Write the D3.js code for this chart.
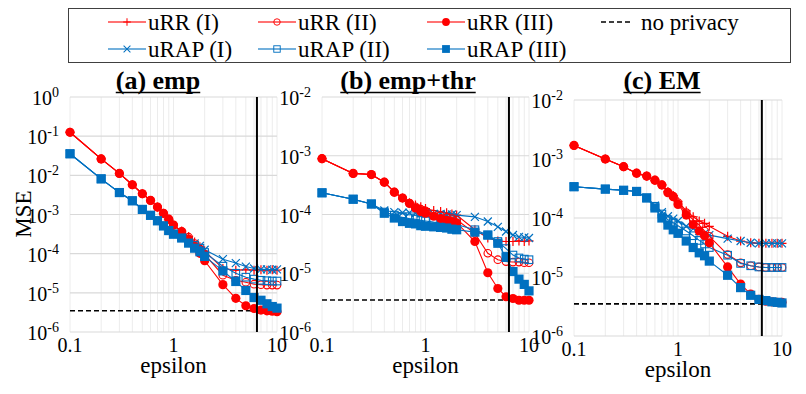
<!DOCTYPE html>
<html>
<head>
<meta charset="utf-8">
<script src="https://cdn.jsdelivr.net/npm/d3@7"></script>
<style>
  body { margin: 0; background: #fff; }
</style>
</head>
<body>
<div id="chart"></div>
<script>
// epsilon values on the x axis
var eps = [0.1, 0.2, 0.3, 0.4, 0.5, 0.6, 0.7, 0.8, 0.9, 1.0,
  1.2, 1.4, 1.6, 1.8, 2.0, 3, 4, 5, 6, 7, 8, 9, 10];

var seriesNames = ['uRR (I)', 'uRR (II)', 'uRR (III)', 'uRAP (I)', 'uRAP (II)', 'uRAP (III)'];
var noPrivacy = 3.5e-6;
var epsLine = 6.4;

// (a) emp
var empRR1 = [1.26e-1, 2.63e-2, 1.12e-2, 5.75e-3, 3.39e-3, 2.29e-3, 1.55e-3, 1.07e-3, 7.59e-4, 5.37e-4,
  3.80e-4, 2.75e-4, 2.00e-4, 1.51e-4, 1.17e-4, 4.17e-5, 3.80e-5, 3.89e-5, 3.80e-5, 3.89e-5, 3.80e-5, 3.89e-5, 3.80e-5];
var empRR2 = [1.26e-1, 2.63e-2, 1.12e-2, 5.75e-3, 3.39e-3, 2.29e-3, 1.55e-3, 1.07e-3, 7.59e-4, 5.37e-4,
  3.72e-4, 2.63e-4, 1.82e-4, 1.32e-4, 9.55e-5, 2.82e-5, 2.09e-5, 1.86e-5, 1.66e-5, 1.62e-5, 1.58e-5, 1.58e-5, 1.58e-5];
var empRR3 = [1.26e-1, 2.63e-2, 1.12e-2, 5.75e-3, 3.39e-3, 2.29e-3, 1.55e-3, 1.07e-3, 7.59e-4, 5.37e-4,
  3.63e-4, 2.34e-4, 1.51e-4, 1.02e-4, 6.61e-5, 1.62e-5, 7.24e-6, 4.68e-6, 3.98e-6, 3.63e-6, 3.47e-6, 3.39e-6, 3.31e-6];
var empRAP1 = [3.55e-2, 8.13e-3, 3.63e-3, 2.24e-3, 1.35e-3, 9.55e-4, 6.92e-4, 5.13e-4, 3.89e-4, 3.16e-4,
  2.69e-4, 2.19e-4, 1.82e-4, 1.58e-4, 1.26e-4, 7.24e-5, 5.75e-5, 4.68e-5, 4.17e-5, 3.98e-5, 3.98e-5, 3.89e-5, 3.98e-5];
var empRAP2 = [3.55e-2, 8.13e-3, 3.63e-3, 2.24e-3, 1.35e-3, 9.55e-4, 6.92e-4, 5.13e-4, 3.89e-4, 3.16e-4,
  2.63e-4, 2.04e-4, 1.62e-4, 1.38e-4, 1.07e-4, 4.79e-5, 3.16e-5, 2.51e-5, 2.24e-5, 2.09e-5, 2.04e-5, 2.00e-5, 2.00e-5];
var empRAP3 = [3.55e-2, 8.13e-3, 3.63e-3, 2.24e-3, 1.35e-3, 9.55e-4, 6.92e-4, 5.13e-4, 3.89e-4, 3.16e-4,
  2.51e-4, 1.86e-4, 1.38e-4, 1.12e-4, 8.51e-5, 3.63e-5, 1.95e-5, 1.15e-5, 7.59e-6, 6.46e-6, 5.25e-6, 4.47e-6, 4.07e-6];

// (b) emp+thr
var thrRR1 = [8.91e-4, 5.01e-4, 4.79e-4, 3.55e-4, 2.40e-4, 1.91e-4, 1.58e-4, 1.45e-4, 1.35e-4, 1.26e-4,
  1.17e-4, 1.12e-4, 1.07e-4, 1.02e-4, 9.77e-5, 5.50e-5, 3.98e-5, 3.55e-5, 3.47e-5, 3.47e-5, 3.55e-5, 3.47e-5, 3.55e-5];
var thrRR2 = [8.91e-4, 5.01e-4, 4.79e-4, 3.55e-4, 2.40e-4, 1.91e-4, 1.55e-4, 1.35e-4, 1.23e-4, 1.15e-4,
  1.02e-4, 9.55e-5, 8.91e-5, 8.51e-5, 8.13e-5, 4.79e-5, 2.19e-5, 1.70e-5, 1.58e-5, 1.55e-5, 1.55e-5, 1.51e-5, 1.51e-5];
var thrRR3 = [8.91e-4, 5.01e-4, 4.79e-4, 3.55e-4, 2.40e-4, 1.91e-4, 1.55e-4, 1.29e-4, 1.12e-4, 1.05e-4,
  9.33e-5, 8.51e-5, 7.94e-5, 7.59e-5, 7.24e-5, 3.47e-5, 1.02e-5, 5.50e-6, 3.98e-6, 3.72e-6, 3.47e-6, 3.47e-6, 3.47e-6];
var thrRAP1 = [2.34e-4, 1.82e-4, 1.51e-4, 1.17e-4, 1.10e-4, 1.07e-4, 1.07e-4, 1.05e-4, 1.05e-4, 1.05e-4,
  1.02e-4, 1.02e-4, 1.00e-4, 1.00e-4, 9.77e-5, 9.12e-5, 7.59e-5, 6.17e-5, 5.13e-5, 4.47e-5, 4.17e-5, 4.07e-5, 3.98e-5];
var thrRAP2 = [2.34e-4, 1.82e-4, 1.51e-4, 1.10e-4, 9.77e-5, 8.91e-5, 8.51e-5, 8.32e-5, 7.94e-5, 7.76e-5,
  7.41e-5, 7.24e-5, 7.08e-5, 6.92e-5, 6.76e-5, 5.50e-5, 4.47e-5, 3.47e-5, 2.63e-5, 2.04e-5, 1.82e-5, 1.74e-5, 1.70e-5];
var thrRAP3 = [2.34e-4, 1.82e-4, 1.51e-4, 1.05e-4, 8.71e-5, 7.59e-5, 7.08e-5, 6.92e-5, 6.46e-5, 6.31e-5,
  6.17e-5, 6.03e-5, 5.89e-5, 5.62e-5, 5.50e-5, 5.01e-5, 4.47e-5, 3.24e-5, 1.86e-5, 1.07e-5, 7.94e-6, 6.46e-6, 5.01e-6];

// (c) EM
var emRR1 = [1.70e-3, 1.00e-3, 7.41e-4, 5.75e-4, 5.13e-4, 4.37e-4, 3.63e-4, 2.82e-4, 2.40e-4, 1.91e-4,
  1.32e-4, 1.05e-4, 8.91e-5, 8.13e-5, 7.24e-5, 4.90e-5, 4.07e-5, 3.80e-5, 3.72e-5, 3.72e-5, 3.72e-5, 3.72e-5, 3.72e-5];
var emRR2 = [1.70e-3, 1.00e-3, 7.41e-4, 5.75e-4, 5.13e-4, 4.37e-4, 3.63e-4, 2.75e-4, 2.34e-4, 1.82e-4,
  1.23e-4, 9.33e-5, 7.59e-5, 6.03e-5, 4.90e-5, 2.40e-5, 1.74e-5, 1.55e-5, 1.48e-5, 1.45e-5, 1.45e-5, 1.45e-5, 1.45e-5];
var emRR3 = [1.70e-3, 1.00e-3, 7.41e-4, 5.75e-4, 5.13e-4, 4.37e-4, 3.63e-4, 2.69e-4, 2.29e-4, 1.70e-4,
  1.12e-4, 7.76e-5, 6.03e-5, 5.01e-5, 3.80e-5, 1.48e-5, 7.59e-6, 5.13e-6, 4.17e-6, 3.89e-6, 3.80e-6, 3.72e-6, 3.72e-6];
var emRAP1 = [3.39e-4, 3.09e-4, 2.95e-4, 2.82e-4, 2.19e-4, 1.62e-4, 1.26e-4, 1.07e-4, 9.77e-5, 8.91e-5,
  7.24e-5, 6.61e-5, 6.03e-5, 5.50e-5, 5.13e-5, 4.47e-5, 4.07e-5, 3.80e-5, 3.72e-5, 3.72e-5, 3.72e-5, 3.72e-5, 3.72e-5];
var emRAP2 = [3.39e-4, 3.09e-4, 2.95e-4, 2.82e-4, 2.19e-4, 1.58e-4, 1.17e-4, 9.33e-5, 8.32e-5, 7.41e-5,
  6.03e-5, 5.01e-5, 4.17e-5, 3.63e-5, 3.16e-5, 2.34e-5, 1.70e-5, 1.55e-5, 1.48e-5, 1.45e-5, 1.45e-5, 1.45e-5, 1.45e-5];
var emRAP3 = [3.39e-4, 3.09e-4, 2.95e-4, 2.82e-4, 2.19e-4, 1.48e-4, 1.00e-4, 7.59e-5, 6.31e-5, 5.50e-5,
  4.07e-5, 3.16e-5, 2.57e-5, 2.29e-5, 1.86e-5, 1.07e-5, 6.61e-6, 4.90e-6, 4.17e-6, 3.98e-6, 3.80e-6, 3.72e-6, 3.63e-6];

// panel layout
var panels = [
  { title: '(a) emp', titleX: 158, yTop: 1, x0: 70, x1: 277, y0: 97, y1: 332,
    series: [empRR1, empRR2, empRR3, empRAP1, empRAP2, empRAP3] },
  { title: '(b) emp+thr', titleX: 408, yTop: 1e-2, x0: 322, x1: 529, y0: 97, y1: 332,
    series: [thrRR1, thrRR2, thrRR3, thrRAP1, thrRAP2, thrRAP3] },
  { title: '(c) EM', titleX: 662, yTop: 1e-2, x0: 574, x1: 782, y0: 100, y1: 336,
    series: [emRR1, emRR2, emRR3, emRAP1, emRAP2, emRAP3] }
];

var red = '#ff0000';
var blue = '#0070c0';
var styles = [
  { color: red, marker: 'plus' },
  { color: red, marker: 'circleOpen' },
  { color: red, marker: 'circle' },
  { color: blue, marker: 'cross' },
  { color: blue, marker: 'squareOpen' },
  { color: blue, marker: 'square' }
];
// draw order: I, II, III
var drawOrder = [0, 3, 1, 4, 2, 5];
var serif = 'Liberation Serif';

var svg = d3.select('#chart').append('svg')
  .attr('width', 806)
  .attr('height', 394);

// text helper, always in the serif face
function addText(sel, x, y, size, str) {
  return sel.append('text')
    .attr('x', x).attr('y', y)
    .attr('font-family', serif)
    .attr('font-size', size + 'px')
    .attr('fill', '#000')
    .text(str);
}

// draw one marker at (0,0) inside group g
function drawMarker(g, type, color) {
  if (type === 'plus') {
    g.append('path').attr('d', 'M-4.5,0H4.5M0,-4.5V4.5')
      .attr('stroke', color).attr('stroke-width', 1.2).attr('fill', 'none');
  } else if (type === 'cross') {
    g.append('path').attr('d', 'M-4,-4L4,4M-4,4L4,-4')
      .attr('stroke', color).attr('stroke-width', 1.2).attr('fill', 'none');
  } else if (type === 'circleOpen') {
    g.append('circle').attr('r', 3.8)
      .attr('stroke', color).attr('stroke-width', 1.1).attr('fill', 'none');
  } else if (type === 'circle') {
    g.append('circle').attr('r', 4.6).attr('fill', color);
  } else if (type === 'squareOpen') {
    g.append('rect').attr('x', -3.8).attr('y', -3.8).attr('width', 7.6).attr('height', 7.6)
      .attr('stroke', color).attr('stroke-width', 1.1).attr('fill', 'none');
  } else {
    g.append('rect').attr('x', -4.6).attr('y', -4.6).attr('width', 9.2).attr('height', 9.2)
      .attr('fill', color);
  }
}

// y tick label like 10^-3
function powLabel(sel, x, y, exp) {
  var t = addText(sel, x, y, 20, null)
    .attr('text-anchor', 'end');
  t.append('tspan').text('10');
  t.append('tspan').attr('dy', -8).attr('font-size', '14px').text(exp);
}

panels.forEach(function (p) {
  var x = d3.scaleLog().domain([0.1, 10]).range([p.x0, p.x1]);
  var y = d3.scaleLog().domain([1e-6, p.yTop]).range([p.y1, p.y0]);
  var g = svg.append('g');

  // vertical grid
  var xGrid = [];
  [0.1, 1].forEach(function (d) {
    for (var k = 1; k <= 9; k++) xGrid.push(d * k);
  });
  xGrid.push(10);
  g.selectAll('.vgrid')
    .data(xGrid)
    .enter()
    .append('line')
    .attr('x1', d => x(d)).attr('x2', d => x(d))
    .attr('y1', p.y0).attr('y2', p.y1)
    .attr('stroke', '#ececec')
    .attr('stroke-width', 1);

  // horizontal grid at each decade
  var yTicks = y.ticks().filter(d => Math.abs(Math.log10(d) - Math.round(Math.log10(d))) < 1e-9);
  g.selectAll('.hgrid')
    .data(yTicks)
    .enter()
    .append('line')
    .attr('x1', p.x0).attr('x2', p.x1)
    .attr('y1', d => y(d)).attr('y2', d => y(d))
    .attr('stroke', '#d9d9d9')
    .attr('stroke-width', 1.2);

  // y tick labels
  yTicks.forEach(function (d) {
    powLabel(g, p.x0 - 11, y(d) + 8, String(Math.round(Math.log10(d))));
  });

  // x tick labels
  [0.1, 1, 10].forEach(function (d) {
    addText(g, x(d), p.y1 + 20, 20, d === 0.1 ? '0.1' : String(d))
      .attr('text-anchor', 'middle');
  });

  addText(g, (p.x0 + p.x1) / 2, p.y1 + 41, 23, 'epsilon')
    .attr('text-anchor', 'middle');

  // title
  var title = addText(g, p.titleX, 89, 26, p.title)
    .attr('text-anchor', 'middle')
    .attr('font-weight', 'bold');
  var bb = title.node().getBBox();
  g.append('line')
    .attr('x1', bb.x).attr('x2', bb.x + bb.width)
    .attr('y1', 92.5).attr('y2', 92.5)
    .attr('stroke', '#000').attr('stroke-width', 1.3);

  // no privacy baseline
  g.append('line')
    .attr('x1', p.x0).attr('x2', p.x1)
    .attr('y1', y(noPrivacy)).attr('y2', y(noPrivacy))
    .attr('stroke', '#000')
    .attr('stroke-width', 1.6)
    .attr('stroke-dasharray', '5,3');

  // series
  var line = d3.line()
    .x((d, i) => x(eps[i]))
    .y(d => y(d));

  drawOrder.forEach(function (si) {
    var s = p.series[si];
    var st = styles[si];
    g.append('path')
      .datum(s)
      .attr('d', line)
      .attr('fill', 'none')
      .attr('stroke', st.color)
      .attr('stroke-width', 1.1);
    g.selectAll('.m' + si)
      .data(s)
      .enter()
      .append('g')
      .attr('transform', (d, i) => `translate(${x(eps[i])},${y(d)})`)
      .each(function () { drawMarker(d3.select(this), st.marker, st.color); });
  });

  // vertical epsilon marker
  g.append('line')
    .attr('x1', x(epsLine)).attr('x2', x(epsLine))
    .attr('y1', p.y0).attr('y2', p.y1)
    .attr('stroke', '#000')
    .attr('stroke-width', 2);
});

// y axis title
addText(svg, 0, 0, 23, 'MSE')
  .attr('transform', 'translate(31,214) rotate(-90)')
  .attr('text-anchor', 'middle');

// legend
var legend = svg.append('g');
legend.append('rect')
  .attr('x', 68.5).attr('y', 8.5)
  .attr('width', 722).attr('height', 54)
  .attr('fill', '#fff')
  .attr('stroke', '#404040')
  .attr('stroke-width', 1);

var legendPos = [
  { x: 108, y: 22 }, { x: 258, y: 22 }, { x: 427, y: 22 },
  { x: 108, y: 49 }, { x: 258, y: 49 }, { x: 427, y: 49 }
];
seriesNames.forEach(function (name, i) {
  var lp = legendPos[i];
  var st = styles[i];
  legend.append('line')
    .attr('x1', lp.x).attr('x2', lp.x + 38)
    .attr('y1', lp.y).attr('y2', lp.y)
    .attr('stroke', st.color)
    .attr('stroke-opacity', 0.55)
    .attr('stroke-width', 2);
  var mg = legend.append('g');
  drawMarker(mg, st.marker, st.color);
  mg.attr('transform', `translate(${lp.x + 19},${lp.y}) scale(0.85)`);
  addText(legend, lp.x + 40, lp.y + 8, 23, name);
});
legend.append('line')
  .attr('x1', 601).attr('x2', 632)
  .attr('y1', 22).attr('y2', 22)
  .attr('stroke', '#000')
  .attr('stroke-width', 1.6)
  .attr('stroke-dasharray', '5,3');
addText(legend, 641, 30, 23, 'no privacy');
</script>
</body>
</html>
